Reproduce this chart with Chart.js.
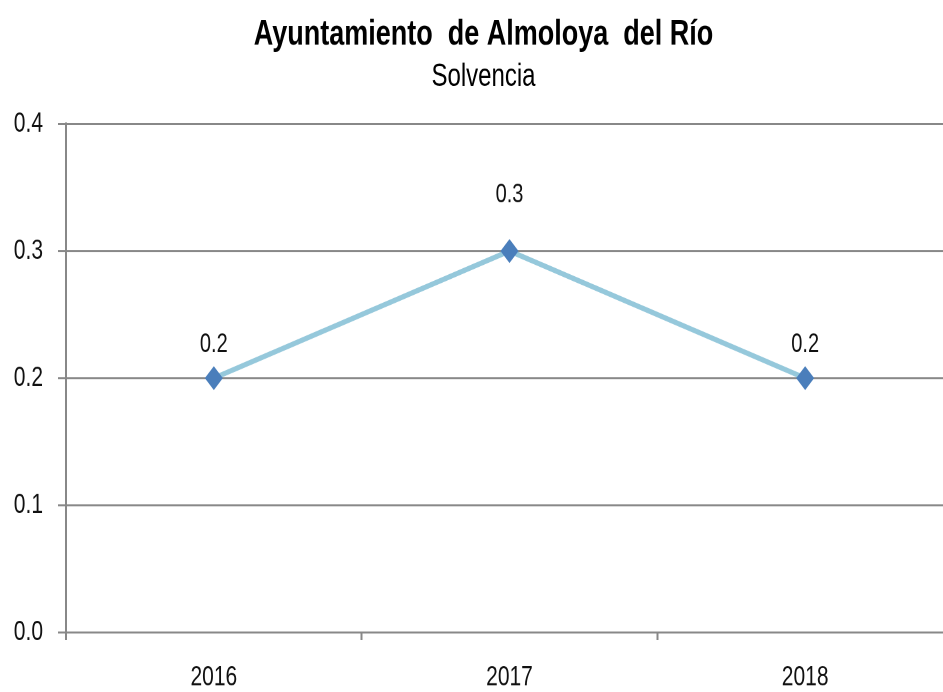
<!DOCTYPE html>
<html>
<head>
<meta charset="utf-8">
<title>Solvencia</title>
<script src="https://cdn.jsdelivr.net/npm/chart.js@4.4.1/dist/chart.umd.min.js"></script>
<style>
    html, body { margin: 0; padding: 0; background: #fff; overflow: hidden; }
    #wrap { width: 943px; height: 692px; overflow: hidden; }
    /* the original picture is stretched vertically, so stretch ours too */
    #solvenciaCanvas { transform: scaleY(1.3308); transform-origin: 0 0; }
</style>
</head>
<body>
<div id="wrap">
    <canvas id="solvenciaCanvas" width="967" height="520"></canvas>
</div>
<script>
// datos
let years = ['2016', '2017', '2018'];
let solvencia = [0.2, 0.3, 0.2];
let yTicks = [0.0, 0.1, 0.2, 0.3, 0.4];

let fontName = '"Liberation Sans", Arial, sans-serif';
// distancia de la etiqueta sobre cada punto
let labelGap = [25, 42, 25];

// etiquetas de valor encima de los puntos
const pointLabels = {
    id: 'pointLabels',
    afterDatasetsDraw(chart) {
        let ctx = chart.ctx;
        let meta = chart.getDatasetMeta(0);
        ctx.save();
        ctx.font = '20px ' + fontName;
        ctx.fillStyle = '#111';
        ctx.textAlign = 'center';
        ctx.textBaseline = 'middle';
        meta.data.forEach(function(pt, i) {
            ctx.fillText(solvencia[i].toFixed(1), pt.x, pt.y - labelGap[i]);
        });
        ctx.restore();
    }
};

let Canvas = document.getElementById('solvenciaCanvas').getContext('2d');
let lineChart = new Chart(Canvas, {
    type: 'line',
    data: {
        labels: years,
        datasets: [{
            label: 'Solvencia',
            data: solvencia,
            borderColor: '#95c8db',
            borderWidth: 4,
            tension: 0,
            pointStyle: 'rectRot',
            pointRadius: 9,
            pointBackgroundColor: '#4a7ebb',
            pointBorderColor: '#4a7ebb',
            pointBorderWidth: 0
        }]
    },
    options: {
        responsive: false,
        animation: false,
        devicePixelRatio: 2,
        // el titulo se centra entre los paddings
        layout: { padding: { left: 14, right: 14, top: 0, bottom: 0 } },
        plugins: {
            legend: { display: false },
            tooltip: { enabled: false },
            title: {
                display: true,
                text: 'Ayuntamiento  de Almoloya  del Río',
                color: '#000',
                font: { family: fontName, size: 27, weight: 'bold' },
                padding: { top: 10, bottom: 0 }
            },
            subtitle: {
                display: true,
                text: 'Solvencia',
                color: '#000',
                font: { family: fontName, size: 24, weight: 'normal' },
                padding: { top: 1, bottom: 21 }
            }
        },
        scales: {
            x: {
                offset: true,
                grid: {
                    offset: true,
                    drawOnChartArea: false,
                    drawTicks: true,
                    tickLength: 6,
                    color: '#888',
                    lineWidth: 2
                },
                border: { display: true, color: '#888', width: 1.5 },
                ticks: {
                    color: '#111',
                    font: { family: fontName, size: 21 },
                    padding: 15.5,
                    maxRotation: 0
                },
                afterFit: function(scale) { scale.height = 45; }
            },
            y: {
                min: yTicks[0],
                max: yTicks[yTicks.length - 1],
                afterBuildTicks: function(scale) {
                    scale.ticks = yTicks.map(function(v) { return { value: v }; });
                },
                grid: {
                    color: '#888',
                    lineWidth: 1.5,
                    drawTicks: true,
                    tickLength: 8
                },
                border: { display: true, color: '#888', width: 2 },
                ticks: {
                    color: '#111',
                    font: { family: fontName, size: 21 },
                    padding: 15,
                    callback: function(v) { return Number(v).toFixed(1); }
                },
                afterFit: function(scale) { scale.width = 52; }
            }
        }
    },
    plugins: [pointLabels]
});
</script>
</body>
</html>
